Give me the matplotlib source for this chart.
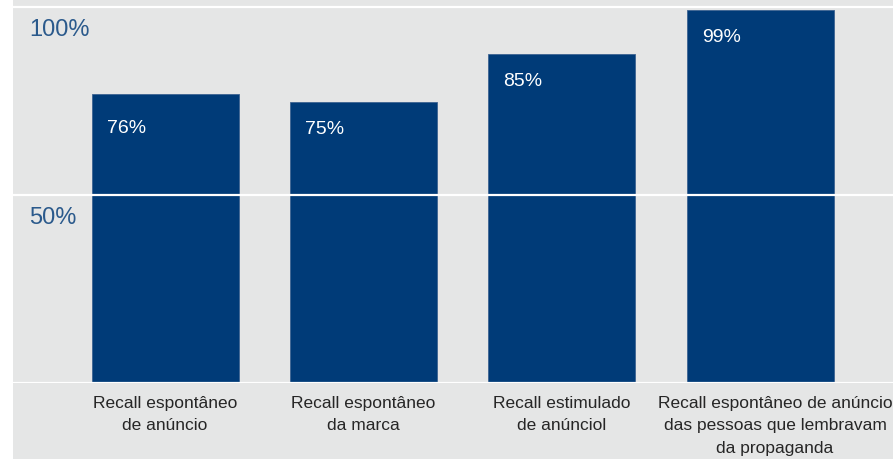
import matplotlib
matplotlib.use("Agg")
import matplotlib.pyplot as plt
from matplotlib.patches import Rectangle

# values as drawn (bar heights) and the labels printed inside the bars
categories = ["Recall espontâneo\nde anúncio",
              "Recall espontâneo\nda marca",
              "Recall estimulado\nde anúnciol",
              "Recall espontâneo de anúncio\ndas pessoas que lembravam\nda propaganda"]
bar_values = [77, 74.7, 87.5, 99.2]
value_labels = ["76%", "75%", "85%", "99%"]
ytick_values = [50, 100]
ytick_labels = ["50%", "100%"]

BG = "#e5e6e6"
BAR = "#003b78"
TICK = "#2b5a8c"

plt.rcParams["font.family"] = ["Liberation Sans", "DejaVu Sans"]

fig = plt.figure(figsize=(8.93, 4.59), dpi=100)
fig.patch.set_facecolor("white")
fig.add_artist(Rectangle((13 / 893, 0), 1, 1, transform=fig.transFigure,
                         facecolor=BG, edgecolor="none", zorder=-1))
ax = fig.add_axes([13 / 893, 76 / 459, 880 / 893, 383 / 459])
ax.set_zorder(1)
ax.set_facecolor(BG)
for s in ax.spines.values():
    s.set_visible(False)

x = list(range(len(categories)))
ax.bar(x, bar_values, width=0.74, color=BAR, edgecolor="#3d6392", linewidth=0.6, zorder=2)
ax.set_xlim(-0.767, 3.67)
ax.set_ylim(0, 101.9)

for v in [0] + ytick_values:
    ax.axhline(v, color="white", lw=1.6, zorder=3)

ax.set_xticks([]); ax.set_yticks([])

# y labels sit just below their gridlines
for v, t in zip(ytick_values, ytick_labels):
    ax.annotate(t, (0, v), xycoords=("axes fraction", "data"), xytext=(16, -23),
                textcoords="offset pixels", ha="left", va="center", fontsize=17, color=TICK)

# value labels inside bars, top-left
for i, (v, t) in enumerate(zip(bar_values, value_labels)):
    dy = -35 if i == 0 else -27
    ax.annotate(t, (i - 0.37, v), xytext=(15, dy), textcoords="offset pixels",
                ha="left", va="center", fontsize=14, color="white", zorder=4)

# category labels below the axis
for i, c in enumerate(categories):
    dx = 15 if i == 3 else 0
    ax.annotate(c, (i, 0), xytext=(dx, -13), textcoords="offset pixels",
                ha="center", va="top", fontsize=12.5, color="#262626", linespacing=1.62,
                annotation_clip=False)

fig.savefig("out.png", dpi=100, facecolor=fig.get_facecolor())
